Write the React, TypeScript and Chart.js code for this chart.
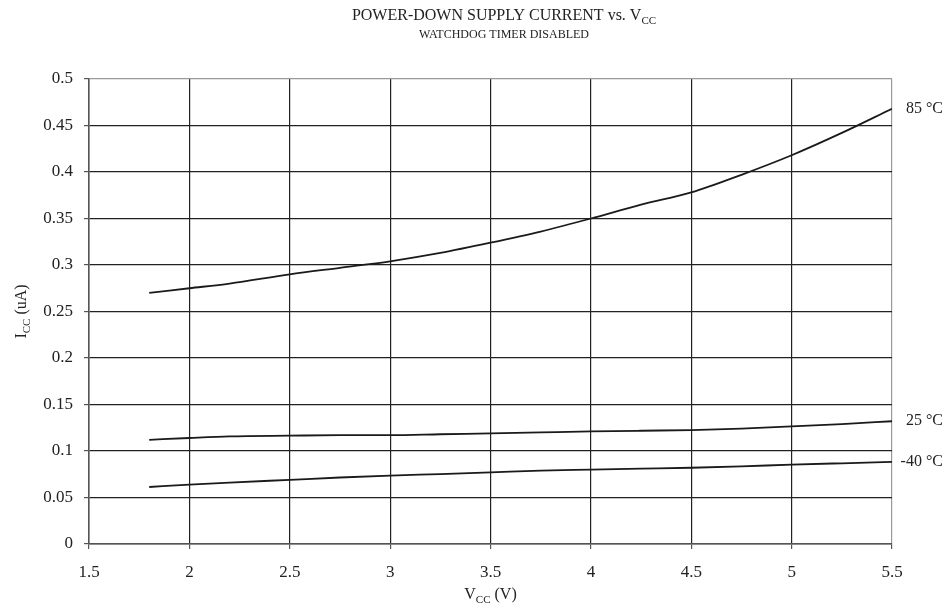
import React, { useEffect, useRef } from "react";
import { Chart, registerables } from "chart.js";

Chart.register(...registerables);

const vcc = [1.8, 2.0, 2.2, 2.5, 2.75, 3.0, 3.25, 3.5, 3.75, 4.0, 4.25, 4.5, 4.75, 5.0, 5.25, 5.5];
const icc85 = [0.27, 0.275, 0.28, 0.29, 0.297, 0.304, 0.313, 0.324, 0.336, 0.35, 0.365, 0.378, 0.397, 0.418, 0.442, 0.468];
const icc25 = [0.112, 0.114, 0.1157, 0.1165, 0.117, 0.117, 0.118, 0.119, 0.12, 0.121, 0.1218, 0.1225, 0.124, 0.1265, 0.129, 0.132];
const iccM40 = [0.0613, 0.0638, 0.066, 0.069, 0.0715, 0.0735, 0.0752, 0.077, 0.079, 0.08, 0.081, 0.082, 0.0835, 0.0853, 0.0868, 0.0882];
const seriesLabels = ["85 °C", "25 °C", "-40 °C"];
const yTickLabels = ["0", "0.05", "0.1", "0.15", "0.2", "0.25", "0.3", "0.35", "0.4", "0.45", "0.5"];
const xTickLabels = ["1.5", "2", "2.5", "3", "3.5", "4", "4.5", "5", "5.5"];

const FONT = "'Liberation Serif', 'Times New Roman', serif";
const TEXT = "#222";

type Part = { t: string; sub?: boolean };

function drawRich(ctx: CanvasRenderingContext2D, parts: Part[], x: number, y: number, size: number, subSize: number) {
  let w = 0;
  for (const p of parts) {
    ctx.font = `${p.sub ? subSize : size}px ${FONT}`;
    w += ctx.measureText(p.t).width;
  }
  let cx = x - w / 2;
  for (const p of parts) {
    ctx.font = `${p.sub ? subSize : size}px ${FONT}`;
    ctx.fillText(p.t, cx, p.sub ? y + size * 0.22 : y);
    cx += ctx.measureText(p.t).width;
  }
}

const textPlugin = {
  id: "textPlugin",
  afterDraw(chart: any) {
    const ctx: CanvasRenderingContext2D = chart.ctx;
    const ca = chart.chartArea;
    ctx.save();
    ctx.fillStyle = TEXT;
    ctx.textBaseline = "alphabetic";
    ctx.textAlign = "left";
    drawRich(ctx, [{ t: "POWER-DOWN SUPPLY CURRENT vs. V" }, { t: "CC", sub: true }], 504, 20, 16, 11);
    drawRich(ctx, [{ t: "WATCHDOG TIMER DISABLED" }], 504, 38, 12, 9);
    drawRich(ctx, [{ t: "V" }, { t: "CC", sub: true }, { t: " (V)" }], (ca.left + ca.right) / 2, 599, 16, 11);
    ctx.save();
    ctx.translate(26, (ca.top + ca.bottom) / 2);
    ctx.rotate(-Math.PI / 2);
    drawRich(ctx, [{ t: "I" }, { t: "CC", sub: true }, { t: " (uA)" }], 0, 0, 16, 11);
    ctx.restore();
    ctx.font = `16px ${FONT}`;
    ctx.textAlign = "right";
    ctx.textBaseline = "middle";
    chart.data.datasets.forEach((ds: any, i: number) => {
      const meta = chart.getDatasetMeta(i);
      const pt = meta.data[meta.data.length - 1];
      ctx.fillText(seriesLabels[i], 943, pt.y);
    });
    ctx.restore();
  },
};

export default function App() {
  const ref = useRef<HTMLCanvasElement | null>(null);
  useEffect(() => {
    if (!ref.current) return;
    const mk = (vals: number[]) => vcc.map((x, i) => ({ x, y: vals[i] }));
    const lineStyle = { borderColor: "#1a1a1a", borderWidth: 1.8, pointRadius: 0, fill: false, cubicInterpolationMode: "monotone" as const };
    const chart = new Chart(ref.current, {
      type: "line",
      data: {
        datasets: [
          { label: seriesLabels[0], data: mk(icc85), ...lineStyle },
          { label: seriesLabels[1], data: mk(icc25), ...lineStyle },
          { label: seriesLabels[2], data: mk(iccM40), ...lineStyle },
        ],
      },
      options: {
        animation: false,
        responsive: false,
        layout: { padding: { top: 79, right: 57, left: 0, bottom: 0 } },
        plugins: { legend: { display: false }, tooltip: { enabled: false }, title: { display: false } },
        scales: {
          x: {
            type: "linear",
            min: 1.5,
            max: 5.5,
            afterFit: (s: any) => { s.height = 72; },
            ticks: {
              stepSize: 0.5,
              padding: 13,
              color: TEXT,
              font: { family: FONT, size: 17 },
              maxRotation: 0,
              callback: (v: any, i: number) => xTickLabels[i],
            },
            grid: {
              color: (c: any) => (c.tick && c.tick.value === 5.5 ? "#999" : "#222"),
              lineWidth: 1.2,
              tickLength: 5,
              tickColor: "#555",
            },
            border: { color: "#555", width: 1.5 },
          },
          y: {
            type: "linear",
            min: 0,
            max: 0.5,
            afterFit: (s: any) => { s.width = 89; },
            ticks: {
              stepSize: 0.05,
              padding: 11,
              color: TEXT,
              font: { family: FONT, size: 17 },
              callback: (v: any, i: number) => yTickLabels[i],
            },
            grid: {
              color: (c: any) => (c.tick && c.tick.value === 0.5 ? "#999" : "#222"),
              lineWidth: 1.2,
              tickLength: 5,
              tickColor: "#555",
            },
            border: { color: "#555", width: 1.5 },
          },
        },
      },
      plugins: [textPlugin],
    });
    return () => chart.destroy();
  }, []);
  return (
    <div style={{ position: "fixed", left: 0, top: 0, width: 949, height: 616, background: "#fff" }}>
      <canvas ref={ref} width={949} height={616} style={{ width: 949, height: 616 }} />
    </div>
  );
}
